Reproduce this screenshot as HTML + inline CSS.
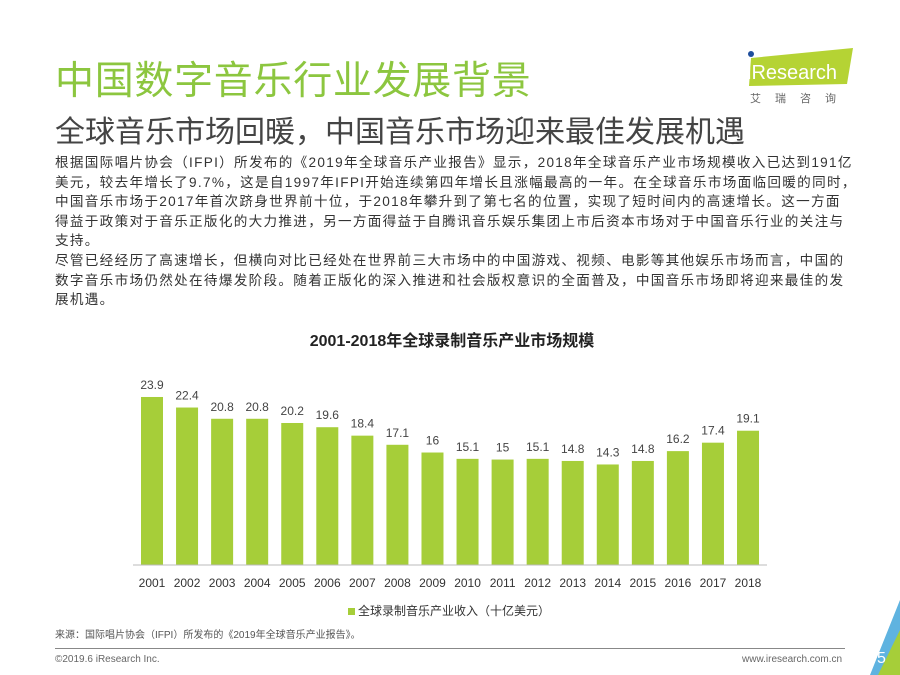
<!DOCTYPE html>
<html><head><meta charset="utf-8"><style>
body{margin:0;width:900px;height:675px;background:#fff;position:relative;overflow:hidden;font-family:"Liberation Sans","Noto Sans CJK SC",sans-serif}
.a{position:absolute;white-space:nowrap}
</style></head><body>
<div class="a" style="left:55px;top:50px;font-size:39px;color:#8cc63f;letter-spacing:0.7px">中国数字音乐行业发展背景</div>
<div class="a" style="left:55px;top:107px;font-size:30px;color:#444">全球音乐市场回暖，中国音乐市场迎来最佳发展机遇</div>
<div class="a" style="left:745px;top:46px;width:110px;height:46px">
<svg width="110" height="46"><polygon points="6,12 108,2 102,38 4,40" fill="#b5d334"/><circle cx="6" cy="8" r="3" fill="#1f4e9c"/><text x="2" y="33" font-size="20" fill="#fff" font-family="Liberation Sans">iResearch</text></svg></div>
<div class="a" style="left:750px;top:90px;font-size:11px;color:#666;letter-spacing:14px">艾瑞咨询</div>
<div class="a" style="left:55px;top:153px;font-size:13.6px;line-height:19.6px;color:#333;letter-spacing:1.3px">根据国际唱片协会（IFPI）所发布的《2019年全球音乐产业报告》显示，2018年全球音乐产业市场规模收入已达到191亿<br>美元，较去年增长了9.7%，这是自1997年IFPI开始连续第四年增长且涨幅最高的一年。在全球音乐市场面临回暖的同时，<br>中国音乐市场于2017年首次跻身世界前十位，于2018年攀升到了第七名的位置，实现了短时间内的高速增长。这一方面<br>得益于政策对于音乐正版化的大力推进，另一方面得益于自腾讯音乐娱乐集团上市后资本市场对于中国音乐行业的关注与<br>支持。<br>尽管已经经历了高速增长，但横向对比已经处在世界前三大市场中的中国游戏、视频、电影等其他娱乐市场而言，中国的<br>数字音乐市场仍然处在待爆发阶段。随着正版化的深入推进和社会版权意识的全面普及，中国音乐市场即将迎来最佳的发<br>展机遇。</div>
<div class="a" style="left:0;width:900px;text-align:center;top:327px;font-size:16px;font-weight:bold;color:#222;margin-left:2px">2001-2018年全球录制音乐产业市场规模</div>
<svg id="chart" class="a" style="left:0;top:0" width="900" height="675"></svg>
<div class="a" style="left:348px;top:602px;font-size:12px;color:#333"><span style="display:inline-block;width:7px;height:7px;background:#a6ce39;margin-right:3px"></span>全球录制音乐产业收入（十亿美元）</div>
<div class="a" style="left:55px;top:626px;font-size:10px;color:#555">来源：国际唱片协会（IFPI）所发布的《2019年全球音乐产业报告》。</div>
<div class="a" style="left:55px;top:648px;width:790px;height:1px;background:#888"></div>
<div class="a" style="left:55px;top:654px;font-size:10px;color:#666">©2019.6 iResearch Inc.</div>
<div class="a" style="left:742px;top:654px;font-size:10px;color:#666">www.iresearch.com.cn</div>
<svg class="a" style="left:860px;top:600px" width="40" height="75"><polygon points="40,0 40,75 10,75" fill="#5fb3e0"/><polygon points="40,30 40,75 18,75" fill="#a6ce39"/></svg>
<div class="a" style="left:877px;top:650px;font-size:16px;color:#fff">5</div>
<script>
const years=["2001","2002","2003","2004","2005","2006","2007","2008","2009","2010","2011","2012","2013","2014","2015","2016","2017","2018"];
const revenue=[23.9,22.4,20.8,20.8,20.2,19.6,18.4,17.1,16,15.1,15,15.1,14.8,14.3,14.8,16.2,17.4,19.1];
const svg=document.getElementById('chart');
const NS='http://www.w3.org/2000/svg';
const x0=152,step=35.06,base=565,k=7.03,bw=22;
const xs=i=>x0+i*step, ys=v=>base-v*k;
years.forEach((y,i)=>{
 const v=revenue[i];
 const r=document.createElementNS(NS,'rect');
 r.setAttribute('x',xs(i)-bw/2);r.setAttribute('y',ys(v));r.setAttribute('width',bw);r.setAttribute('height',base-ys(v));r.setAttribute('fill','#a6ce39');
 
 
 svg.appendChild(r);
 const t=document.createElementNS(NS,'text');
 t.setAttribute('x',xs(i));t.setAttribute('y',ys(v)-8);t.setAttribute('text-anchor','middle');t.setAttribute('font-size','12');t.setAttribute('fill','#444');t.textContent=v;
 
 
 svg.appendChild(t);
 const l=document.createElementNS(NS,'text');
 l.setAttribute('x',xs(i));l.setAttribute('y',587);l.setAttribute('text-anchor','middle');l.setAttribute('font-size','12');l.setAttribute('fill','#333');l.textContent=y;
 
 
 svg.appendChild(l);
});
const ax=document.createElementNS(NS,'line');
ax.setAttribute('x1',133);ax.setAttribute('x2',767);ax.setAttribute('y1',base);ax.setAttribute('y2',base);ax.setAttribute('stroke','#bbb');


svg.appendChild(ax);
</script>
</body></html>
